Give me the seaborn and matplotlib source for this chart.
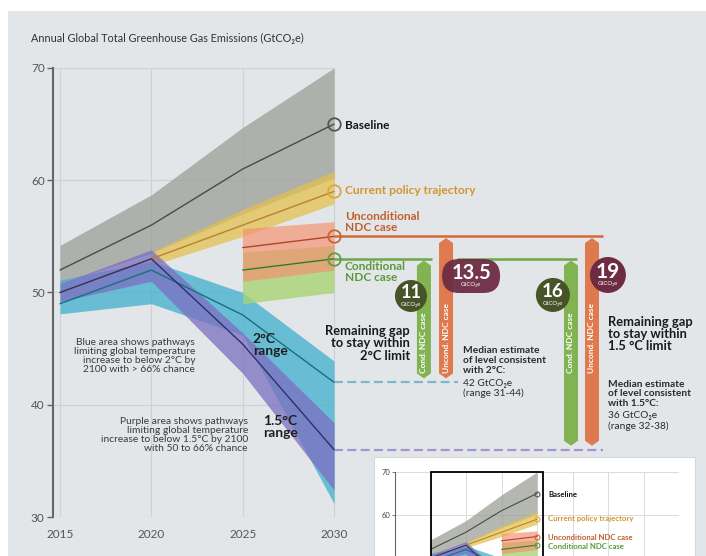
import numpy as np
import pandas as pd
import matplotlib
matplotlib.use("Agg")
import matplotlib.pyplot as plt
from matplotlib.patches import Rectangle, Polygon, Ellipse, FancyBboxPatch
import seaborn as sns

# values (GtCO2e)
YEARS = [2015, 2020, 2025, 2030]

BASELINE = [52, 56, 61, 65]
BASELINE_LO = [50.8, 53.5, 57.0, 60.2]
BASELINE_HI = [54.2, 58.7, 64.7, 70.0]

CURRENT = [50, 53, 56, 59]
CURRENT_BAND_YEARS = [2020, 2025, 2030]
CURRENT_LO = [52.4, 55.0, 57.9]
CURRENT_HI = [53.6, 57.4, 60.8]

NDC_YEARS = [2025, 2030]
UNCOND = [54.0, 55.0]
UNCOND_LO = [51.0, 52.0]
UNCOND_HI = [55.7, 56.3]
COND = [52.0, 53.0]
COND_LO = [49.0, 50.0]
COND_HI = [53.6, 54.2]

TWO_C = [49, 52, 48, 42]
TWO_C_LO = [48.1, 49.0, 46.2, 31.2]
TWO_C_HI = [51.1, 52.8, 50.0, 43.9]
ONE5_C = [50, 53, 45.4, 36]
ONE5_C_LO = [49.2, 51.0, 42.8, 32.4]
ONE5_C_HI = [50.8, 53.8, 46.4, 38.4]

TARGET_2C = 42
TARGET_15C = 36
GAP_LABELS = ["11", "13.5", "16", "19"]

SERIES = ["Baseline", "Current policy trajectory", "Unconditional NDC case",
          "Conditional NDC case", "2°C", "1.5°C"]

LINE_COLORS = {
    "Baseline": "#4a4a4a",
    "Current policy trajectory": "#b9822c",
    "Unconditional NDC case": "#b1452a",
    "Conditional NDC case": "#2f7d32",
    "2°C": "#17707c",
    "1.5°C": "#2e2f6e",
}
MARKER_COLORS = ["#555555", "#e0a53a", "#c9652e", "#5d9e3f"]
LABEL_COLORS = ["#161616", "#d4952f", "#c0602f", "#5a9a3c"]

BG = "#e2e6e9"
ORANGE = "#df7a4e"
GREEN = "#82b352"
OLIVE = "#47542a"
MAROON = "#6e2c43"

lines = pd.concat([
    pd.DataFrame({"series": SERIES[0], "year": YEARS, "value": BASELINE}),
    pd.DataFrame({"series": SERIES[1], "year": YEARS, "value": CURRENT}),
    pd.DataFrame({"series": SERIES[2], "year": NDC_YEARS, "value": UNCOND}),
    pd.DataFrame({"series": SERIES[3], "year": NDC_YEARS, "value": COND}),
    pd.DataFrame({"series": SERIES[4], "year": YEARS, "value": TWO_C}),
    pd.DataFrame({"series": SERIES[5], "year": YEARS, "value": ONE5_C}),
], ignore_index=True)


def draw_pathways(ax, lw, ms, mew):
    ax.fill_between(YEARS, BASELINE_LO, BASELINE_HI, color="#9c9f97", alpha=0.75, lw=0, zorder=1)
    ax.fill_between(CURRENT_BAND_YEARS, CURRENT_LO, CURRENT_HI, color="#e4c04a", alpha=0.72, lw=0, zorder=1)
    ax.fill_between(YEARS, TWO_C_LO, TWO_C_HI, color="#3fb0cf", alpha=0.75, lw=0, zorder=1)
    ax.fill_between(YEARS, ONE5_C_LO, ONE5_C_HI, color="#7b6fc0", alpha=0.75, lw=0, zorder=1)
    ax.fill_between(NDC_YEARS, COND_LO, COND_HI, color="#a9d474", alpha=0.8, lw=0, zorder=1)
    ax.fill_between(NDC_YEARS, UNCOND_LO, UNCOND_HI, color="#f78d6c", alpha=0.65, lw=0, zorder=1)
    sns.lineplot(data=lines, x="year", y="value", hue="series", hue_order=SERIES,
                 palette=LINE_COLORS, linewidth=lw, legend=False, estimator=None,
                 sort=False, ax=ax, zorder=3)
    ends = [BASELINE[-1], CURRENT[-1], UNCOND[-1], COND[-1]]
    for val, col in zip(ends, MARKER_COLORS):
        ax.plot(YEARS[-1], val, "o", ms=ms, mfc="none", mec=col, mew=mew, zorder=5)


sns.set_theme(style="white")
plt.rcParams["font.family"] = ["Lato", "DejaVu Sans"]

fig = plt.figure(figsize=(7.06, 5.56), dpi=100, facecolor="white")
fig.patches.append(Rectangle((8 / 706, 0), 1, 1 - 11 / 556, transform=fig.transFigure,
                             facecolor=BG, edgecolor="none", zorder=-10))

# main axes: 2015 at px 60, 2030 at px 334; 30 at px 517, 70 at px 68
ax = fig.add_axes([53 / 706, 1 - 517 / 556, 653 / 706, 449 / 556])
ax.set_facecolor("none")
X0, X1 = 2014.617, 2050.36
ax.set_xlim(X0, X1)
ax.set_ylim(30, 70)
PX_X = 653 / (X1 - X0)   # pixels per year
PX_Y = 449 / 40          # pixels per GtCO2e

ax.vlines(YEARS, 30, 70, color="#cdd1d5", lw=0.8, zorder=0)
ax.hlines([30, 40, 50, 60, 70], X0, YEARS[-1], color="#cdd1d5", lw=0.8, zorder=0)

draw_pathways(ax, lw=1.0, ms=9, mew=1.3)

for s in ["top", "right", "bottom"]:
    ax.spines[s].set_visible(False)
ax.spines["left"].set_bounds(30, 70)
ax.spines["left"].set_color("#666666")
ax.spines["left"].set_linewidth(1.5)
ax.set_yticks([30, 40, 50, 60, 70])
ax.set_xticks(YEARS)
ax.tick_params(axis="y", length=4, width=1, color="#666666", labelsize=8.5,
               labelcolor="#555555", pad=2, left=True)
ax.tick_params(axis="x", length=0, labelsize=8.5, labelcolor="#555555", pad=9)
ax.set_xlabel("")
ax.set_ylabel("")

# circles' connectors and target lines
ax.hlines(UNCOND[-1], YEARS[-1], 2044.72, color="#d46a35", lw=1.8, zorder=2)
ax.hlines(COND[-1], YEARS[-1], 2035.36, color="#6aa84a", lw=1.8, zorder=2)
ax.hlines(COND[-1], 2036.73, 2043.30, color="#6aa84a", lw=1.8, zorder=2)
ax.plot([YEARS[-1], 2036.78], [TARGET_2C, TARGET_2C], color="#7fb6c9", lw=1.6,
        dashes=(4, 2), zorder=2)
ax.plot([YEARS[-1], 2044.72], [TARGET_15C, TARGET_15C], color="#a394d0", lw=1.6,
        dashes=(4, 2), zorder=2)

# series labels
lab_x = 2030.6
ax.text(lab_x, 64.92, "Baseline", color=LABEL_COLORS[0], fontsize=8.6, weight="bold", va="center")
ax.text(lab_x, 59.13, "Current policy trajectory", color=LABEL_COLORS[1], fontsize=8.6,
        weight="bold", va="center")
ax.text(lab_x, 56.28, "Unconditional\nNDC case", color=LABEL_COLORS[2], fontsize=8.6,
        weight="bold", va="center", linespacing=0.95)
ax.text(lab_x, 51.83, "Conditional\nNDC case", color=LABEL_COLORS[3], fontsize=8.6,
        weight="bold", va="center", linespacing=0.95)


def gap_bar(x, top, bottom, color, text):
    w = 7 / PX_X
    tip = 5 / PX_Y
    top_ = top - 0.15
    bot_ = bottom + 0.35
    pts = [(x - w, bot_ + tip), (x, bot_), (x + w, bot_ + tip),
           (x + w, top_ - tip), (x, top_), (x - w, top_ - tip)]
    ax.add_patch(Polygon(pts, closed=True, facecolor=color, edgecolor="none", zorder=4))
    ax.text(x, 42.8, text, rotation=90, ha="center", va="bottom", color="white",
            fontsize=6, weight="bold", zorder=6)


gap_bar(2034.92, COND[-1], TARGET_2C, GREEN, "Cond. NDC case")
gap_bar(2036.13, UNCOND[-1], TARGET_2C, ORANGE, "Uncond. NDC case")
gap_bar(2042.97, COND[-1], TARGET_15C, GREEN, "Cond. NDC case")
gap_bar(2044.12, UNCOND[-1], TARGET_15C, ORANGE, "Uncond. NDC case")


def badge(cx, cy, wpx, hpx, color, number, fs):
    w, h = wpx / PX_X, hpx / PX_Y
    if wpx == hpx:
        ax.add_patch(Ellipse((cx, cy), w, h, facecolor=color, edgecolor="none", zorder=7))
    else:
        r = (hpx / 2) / PX_X
        ax.add_patch(FancyBboxPatch((cx - w / 2, cy - h / 2), w, h,
                                    boxstyle=f"round,pad=0,rounding_size={r:.3f}",
                                    mutation_aspect=PX_X / PX_Y, facecolor=color,
                                    edgecolor="none", zorder=7, alpha=0.95))
    ax.text(cx, cy + 3 / PX_Y, number, color="white", fontsize=fs, weight="bold",
            ha="center", va="center", zorder=8)
    ax.text(cx, cy - 9 / PX_Y, "GtCO₂e", color="white", fontsize=4.3,
            ha="center", va="center", zorder=8)


badge(2034.21, 49.69, 32, 32, OLIVE, GAP_LABELS[0], 13)
badge(2037.50, 51.47, 58, 34, MAROON, GAP_LABELS[1], 14.5)
badge(2041.98, 49.78, 34, 34, OLIVE, GAP_LABELS[2], 13.5)
badge(2044.99, 51.56, 36, 36, MAROON, GAP_LABELS[3], 15)

# gap annotations
ax.text(2034.16, 45.46, "Remaining gap\nto stay within\n2°C limit", ha="right", va="center",
        multialignment="right", fontsize=9.3, weight="bold", color="#1a1a1a", linespacing=1.05)
ax.text(2037.06, 43.93, "Median estimate\nof level consistent\nwith 2°C:", ha="left",
        va="center", fontsize=7.3, weight="bold", color="#2b2b2b", linespacing=1.1)
ax.text(2037.06, 41.42, "42 GtCO₂e\n(range 31-44)", ha="left", va="center",
        fontsize=7.3, color="#2b2b2b", linespacing=1.1)
ax.text(2044.99, 46.26, "Remaining gap\nto stay within\n1.5 °C limit", ha="left", va="center",
        fontsize=9.3, weight="bold", color="#1a1a1a", linespacing=1.0)
ax.text(2044.99, 40.96, "Median estimate\nof level consistent\nwith 1.5°C:", ha="left",
        va="center", fontsize=7.3, weight="bold", color="#2b2b2b", linespacing=1.05)
ax.text(2044.99, 38.55, "36 GtCO₂e\n(range 32-38)", ha="left", va="center",
        fontsize=7.3, color="#2b2b2b", linespacing=1.1)

# pathway notes
ax.text(2022.39, 44.34, "Blue area shows pathways\nlimiting global temperature\n"
        "increase to below 2°C by\n2100 with > 66% chance", ha="right", va="center",
        multialignment="right", fontsize=7.4, color="#3a3a3a", linespacing=1.02)
ax.text(2025.29, 37.28, "Purple area shows pathways\nlimiting global temperature\n"
        "increase to below 1.5°C by 2100\nwith 50 to 66% chance", ha="right", va="center",
        multialignment="right", fontsize=7.4, color="#3a3a3a", linespacing=1.02)
ax.text(2025.56, 45.32, "2°C\nrange", ha="left", va="center", fontsize=10,
        weight="bold", color="#1e1e1e", linespacing=0.95)
ax.text(2026.11, 38.04, "1.5°C\nrange", ha="left", va="center", fontsize=10,
        weight="bold", color="#1e1e1e", linespacing=0.95)

fig.text(31 / 706, 1 - 38 / 556, "Annual Global Total Greenhouse Gas Emissions (GtCO₂e)",
         ha="left", va="center", fontsize=7.8, color="#333333")

# inset overview (cut off by the figure edge)
frame = fig.add_axes([374 / 706, -0.1, 321 / 706, 0.1 + (556 - 457) / 556])
frame.set_facecolor("white")
frame.set_xticks([])
frame.set_yticks([])
for s in frame.spines.values():
    s.set_color("#d6d9dc")
    s.set_linewidth(0.8)

ins = fig.add_axes([395 / 706, (556 - 472 - 172) / 556, 284 / 706, 172 / 556])
ins.set_facecolor("white")
ins.set_xlim(2010, 2050)
ins.set_ylim(30, 70)
ins.vlines(np.arange(2015, 2051, 5), 30, 70, color="#d9dbdd", lw=0.7, zorder=0)
ins.hlines([40, 50, 60, 70], 2010, 2050, color="#d9dbdd", lw=0.7, zorder=0)
draw_pathways(ins, lw=0.8, ms=3.5, mew=0.8)
ins.add_patch(Rectangle((2015, 25), 15.8, 45, fill=False, edgecolor="black",
                        lw=1.3, zorder=6, clip_on=False))
for s in ["top", "right", "bottom"]:
    ins.spines[s].set_visible(False)
ins.spines["left"].set_color("#666666")
ins.spines["left"].set_linewidth(0.8)
ins.set_xticks([])
ins.set_yticks([60, 70])
ins.tick_params(axis="y", length=2, width=0.6, color="#666666", labelsize=5.5,
                labelcolor="#444444", pad=1.5, left=True)
ins.set_xlabel("")
ins.set_ylabel("")
ins_labels = ["Baseline", "Current policy trajectory", "Unconditional NDC case",
              "Conditional NDC case"]
for lab, yy, col in zip(ins_labels, [64.88, 59.07, 54.88, 52.79], LABEL_COLORS):
    ins.text(2031.55, yy, lab, color=col, fontsize=5.6, weight="bold", va="center")

fig.savefig("out.png", dpi=100, facecolor="white")
